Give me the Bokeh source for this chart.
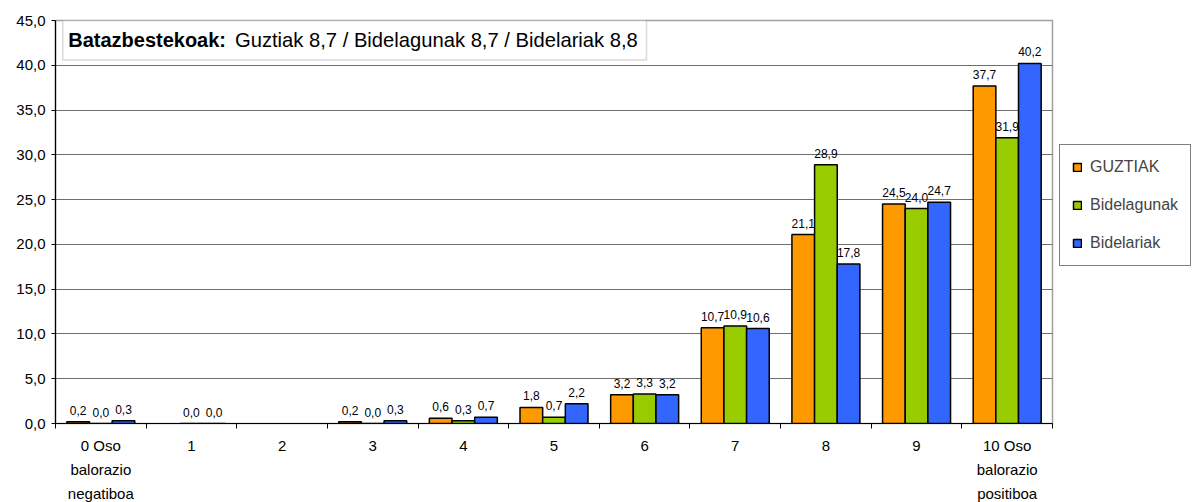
import math
from bokeh.plotting import figure
from bokeh.models import (ColumnDataSource, FixedTicker, Legend, LegendItem,
                          Range1d, BoxAnnotation, Label)
from bokeh.transform import dodge
from bokeh.core.properties import value
from bokeh.embed import file_html
from bokeh.resources import INLINE

NaN = float("nan")

categories = ["0 Oso\nbalorazio\nnegatiboa", "1", "2", "3", "4", "5", "6", "7", "8", "9",
              "10 Oso\nbalorazio\npositiboa"]
series_names = ["GUZTIAK", "Bidelagunak", "Bidelariak"]
guztiak = [0.2, NaN, NaN, 0.2, 0.6, 1.8, 3.2, 10.7, 21.1, 24.5, 37.7]
bidelagunak = [0.0, 0.0, NaN, 0.0, 0.3, 0.7, 3.3, 10.9, 28.9, 24.0, 31.9]
bidelariak = [0.3, 0.0, NaN, 0.3, 0.7, 2.2, 3.2, 10.6, 17.8, 24.7, 40.2]
colors = ["#FF9900", "#99CC00", "#3366FF"]
y_ticks = [0, 5, 10, 15, 20, 25, 30, 35, 40, 45]
title_bold = "Batazbestekoak:"
title_rest = "Guztiak 8,7 / Bidelagunak 8,7 / Bidelariak 8,8"

FONT = "Liberation Sans"


def fmt(v):
    return "" if math.isnan(v) else f"{v:.1f}".replace(".", ",")


idx = list(range(len(categories)))
src = ColumnDataSource(dict(
    idx=idx,
    g=guztiak, b1=bidelagunak, b2=bidelariak,
    g_l=[fmt(v) for v in guztiak],
    b1_l=[fmt(v) for v in bidelagunak],
    b2_l=[fmt(v) for v in bidelariak],
))

p = figure(frame_width=997, frame_height=403, output_backend="svg", toolbar_location=None,
           x_range=Range1d(-0.5, len(categories) - 0.5), y_range=Range1d(0, 45),
           min_border_left=55, min_border_right=0, min_border_top=20,
           min_border_bottom=79)
p.background_fill_color = "white"
p.border_fill_color = "white"
p.outline_line_color = "#a0a0a0"
p.outline_line_width = 1.5

# grid
p.xgrid.visible = False
p.ygrid.ticker = FixedTicker(ticks=y_ticks)
p.ygrid.grid_line_color = "#6e6e6e"
p.ygrid.grid_line_width = 1.2

# axes
yax = p.yaxis[0]
yax.ticker = FixedTicker(ticks=y_ticks)
yax.major_label_overrides = {t: f"{t:.1f}".replace(".", ",") for t in y_ticks}
yax.axis_line_color = "black"
yax.axis_line_width = 1.2
yax.major_tick_out = 4
yax.major_tick_in = 0
yax.minor_tick_out = 0
yax.minor_tick_in = 0
yax.major_label_standoff = 6
yax.major_label_text_font = FONT
yax.major_label_text_font_size = "15px"
yax.major_label_text_color = "black"

xax = p.xaxis[0]
xax.ticker = FixedTicker(ticks=idx, minor_ticks=[i - 0.5 for i in range(len(categories) + 1)])
xax.major_label_overrides = {i: c for i, c in enumerate(categories)}
xax.axis_line_color = "black"
xax.axis_line_width = 1.2
xax.major_tick_out = 0
xax.major_tick_in = 0
xax.minor_tick_out = 5
xax.minor_tick_in = 0
xax.minor_tick_line_color = "black"
xax.major_label_standoff = 8
xax.major_label_text_font = FONT
xax.major_label_text_font_size = "15px"
xax.major_label_text_color = "black"
xax.major_label_text_line_height = 1.42

# bars
fields = ["g", "b1", "b2"]
offsets = [-0.25, 0.0, 0.25]
renderers = []
for f, off, c in zip(fields, offsets, colors):
    r = p.vbar(x=dodge("idx", off, range=p.x_range), top=f, width=0.25, bottom=0,
               source=src, fill_color=c, line_color="black", line_width=1.5)
    renderers.append(r)
    p.text(x=dodge("idx", off, range=p.x_range), y=f, text=f + "_l", source=src,
           text_align="center", text_baseline="bottom", y_offset=-7,
           text_font=value(FONT), text_font_size="12px", text_color="black")

# legend
legend = Legend(items=[LegendItem(label=n, renderers=[r]) for n, r in zip(series_names, renderers)],
                location=(7, 157), orientation="vertical",
                glyph_width=10, glyph_height=10, label_standoff=8,
                label_height=20, spacing=18, padding=12, margin=7,
                border_line_color="black", border_line_width=1,
                background_fill_color="white", background_fill_alpha=1,
                label_text_font=FONT, label_text_font_size="16px")
p.add_layout(legend, "right")

# average box
box = BoxAnnotation(left=-0.42, right=6.02, bottom=40.6, top=45,
                    fill_color="white", fill_alpha=1,
                    line_color="#808080", line_width=1.5)
p.add_layout(box)
p.add_layout(Label(x=-0.36, y=42.8, text=title_bold, text_font=FONT,
                   text_font_style="bold", text_font_size="20px",
                   text_baseline="middle", text_color="black"))
p.add_layout(Label(x=1.48, y=42.8, text=title_rest, text_font=FONT,
                   text_font_size="20.2px", text_baseline="middle", text_color="black"))

open("out.html", "w").write(file_html(p, INLINE))
